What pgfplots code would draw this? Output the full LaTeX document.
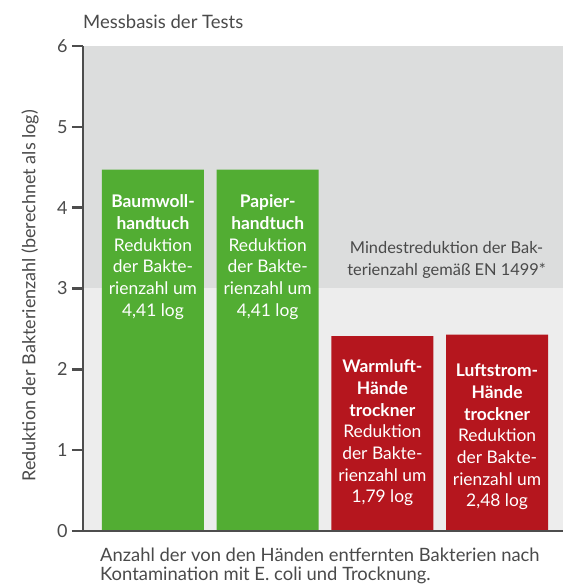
\documentclass[border=0pt]{standalone}
\usepackage{fontspec}
\setmainfont{Lato}
\usepackage{pgfplots}
\pgfplotsset{compat=1.18}
\definecolor{bggreen}{HTML}{52AD33}
\definecolor{bgred}{HTML}{B5161E}
\definecolor{bgtop}{HTML}{DCDDDD}
\definecolor{bgbot}{HTML}{EDEDED}
\definecolor{axgray}{HTML}{4D4D4D}
\definecolor{txgray}{HTML}{4A4A4A}
\begin{document}
\begin{tikzpicture}
\begin{axis}[
  scale only axis,
  width=480pt, height=485pt,
  xmin=-0.61, xmax=3.575,
  ymin=0, ymax=6,
  ytick={0,1,2,3,4,5,6},
  xtick=\empty,
  axis lines*=left,
  axis on top,
  axis line style={axgray, line width=2.6pt},
  y tick style={axgray, line width=2.6pt},
  tick align=outside,
  major tick length=11pt,
  /pgf/number format/assume math mode=true,
  yticklabel style={font=\fontsize{18}{20}\selectfont, text=txgray, xshift=-1pt},
  clip=false,
]
\fill[bgtop] (rel axis cs:0,0.5) rectangle (rel axis cs:1,1);
\fill[bgbot] (rel axis cs:0,0) rectangle (rel axis cs:1,0.5);
\addplot[ybar, bar width=0.889, bar shift=0pt, fill=bggreen, draw=none] coordinates {(0,4.47) (1,4.47)};
\addplot[ybar, bar width=0.889, bar shift=0pt, fill=bgred, draw=none] coordinates {(2,2.41) (3,2.43)};
% bar texts
\node[anchor=north, align=center, inner sep=0pt, text=white, font=\fontsize{17.4}{21.7}\selectfont] at (axis cs:0,4.16)
  {\textbf{Baumwoll-}\\\textbf{handtuch}\\Reduktion\\der Bakte-\\rienzahl um\\4,41 log};
\node[anchor=north, align=center, inner sep=0pt, text=white, font=\fontsize{17.4}{21.7}\selectfont] at (axis cs:1,4.16)
  {\textbf{Papier-}\\\textbf{handtuch}\\Reduktion\\der Bakte-\\rienzahl um\\4,41 log};
\node[anchor=north, align=center, inner sep=0pt, text=white, font=\fontsize{17.4}{21.7}\selectfont] at (axis cs:2,2.12)
  {\textbf{Warmluft-}\\\textbf{Hände}\\\textbf{trockner}\\Reduktion\\der Bakte-\\rienzahl um\\1,79 log};
\node[anchor=north, align=center, inner sep=0pt, text=white, font=\fontsize{17.4}{21.7}\selectfont] at (axis cs:3,2.07)
  {\textbf{Luftstrom-}\\\textbf{Hände}\\\textbf{trockner}\\Reduktion\\der Bakte-\\rienzahl um\\2,48 log};
\node[anchor=north, align=center, inner sep=0pt, text=txgray, font=\fontsize{16.4}{22}\selectfont] at (axis cs:2.56,3.59)
  {Mindestreduktion der Bak-\\terienzahl gemäß EN 1499*};
% title
\node[anchor=west, inner sep=0pt, text=txgray, font=\fontsize{18.5}{20}\selectfont] at ([yshift=24pt]rel axis cs:0,1) {Messbasis der Tests};
% y label
\node[rotate=90, inner sep=0pt, text=txgray, font=\fontsize{18}{20}\selectfont] at ([xshift=-53pt]rel axis cs:0,0.485) {Reduktion der Bakterienzahl (berechnet als log)};
% x label
\node[anchor=north west, align=left, inner sep=0pt, text=txgray, font=\fontsize{18.4}{18.5}\selectfont] at ([xshift=17pt,yshift=-17pt]rel axis cs:0,0)
  {Anzahl der von den Händen entfernten Bakterien nach\\Kontamination mit E. coli und Trocknung.};
\end{axis}
\pgfresetboundingbox
\path ([xshift=-83pt,yshift=-53pt]current axis.south west) rectangle ([yshift=46pt]current axis.north east);
\end{tikzpicture}
\end{document}
